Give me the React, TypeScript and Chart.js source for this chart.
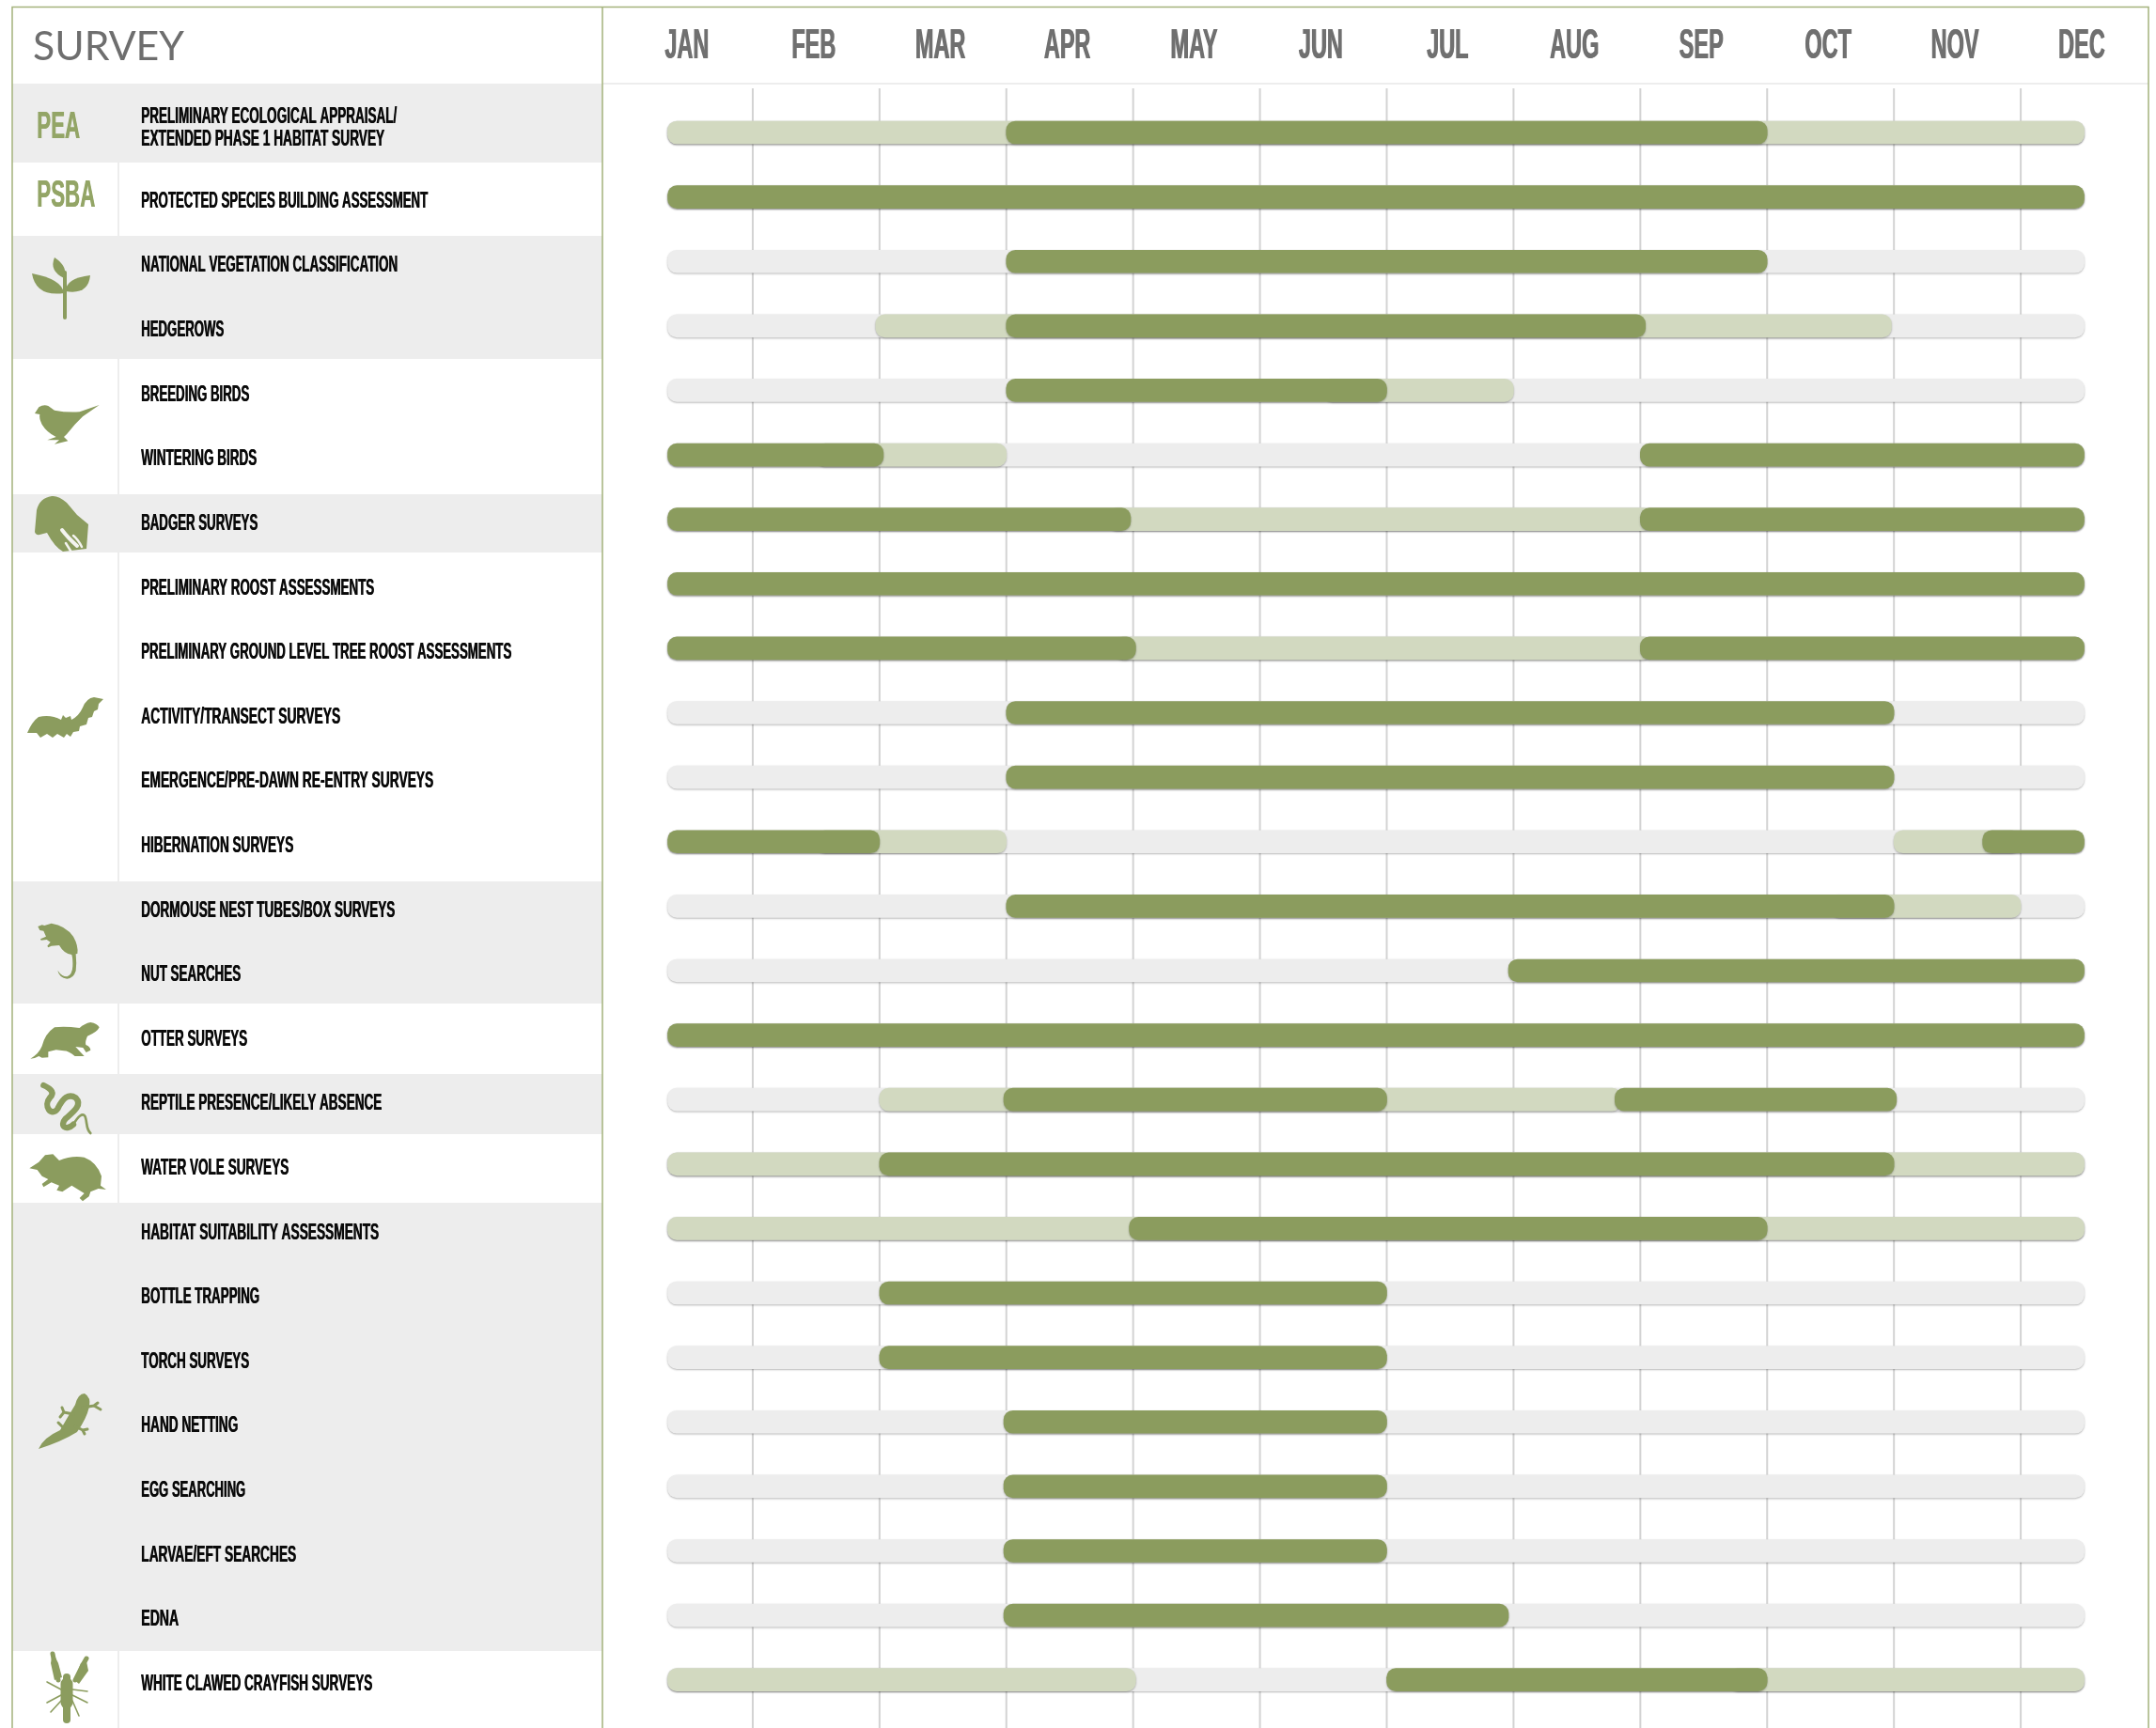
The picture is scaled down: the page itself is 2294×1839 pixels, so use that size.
import React, { useEffect, useRef } from "react";
import { Chart, registerables } from "chart.js";

Chart.register(...registerables);

const months = ["JAN","FEB","MAR","APR","MAY","JUN","JUL","AUG","SEP","OCT","NOV","DEC"];
const surveys: (string | string[])[] = [
  ["PRELIMINARY ECOLOGICAL APPRAISAL/","EXTENDED PHASE 1 HABITAT SURVEY"],
  "PROTECTED SPECIES BUILDING ASSESSMENT",
  "NATIONAL VEGETATION CLASSIFICATION",
  "HEDGEROWS",
  "BREEDING BIRDS",
  "WINTERING BIRDS",
  "BADGER SURVEYS",
  "PRELIMINARY ROOST ASSESSMENTS",
  "PRELIMINARY GROUND LEVEL TREE ROOST ASSESSMENTS",
  "ACTIVITY/TRANSECT SURVEYS",
  "EMERGENCE/PRE-DAWN RE-ENTRY SURVEYS",
  "HIBERNATION SURVEYS",
  "DORMOUSE NEST TUBES/BOX SURVEYS",
  "NUT SEARCHES",
  "OTTER SURVEYS",
  "REPTILE PRESENCE/LIKELY ABSENCE",
  "WATER VOLE SURVEYS",
  "HABITAT SUITABILITY ASSESSMENTS",
  "BOTTLE TRAPPING",
  "TORCH SURVEYS",
  "HAND NETTING",
  "EGG SEARCHING",
  "LARVAE/EFT SEARCHES",
  "EDNA",
  "WHITE CLAWED CRAYFISH SURVEYS",
];

type R = [number, number] | null;
const S = 0.33, E = 11.5;
const fullYear: R[] = surveys.map(() => [S, E]);
const suboptimalA: R[] = [
  [S,E],null,null,[1.97,9.98],[5.5,7],[1.5,3],[3.8,8.1],null,[3.85,8.1],null,null,[1.5,3],
  [9.5,11],null,null,[2,7.85],[S,E],[S,E],null,null,null,null,null,null,[S,4.02],
];
const suboptimalB: R[] = [
  null,null,null,null,null,null,null,null,null,null,null,[10,11],
  null,null,null,null,null,null,null,null,null,null,null,null,[8.7,E],
];
const optimalA: R[] = [
  [3,9],[S,E],[3,9],[3,8.04],[3,6],[S,2.03],[S,3.98],[S,E],[S,4.02],[3,10],[3,10],[S,2],
  [3,10],[6.96,E],[S,E],[2.98,6],[2,10],[3.97,9],[2,6],[2,6],[2.98,6],[2.98,6],[2.98,6],[2.98,6.96],[6,9],
];
const optimalB: R[] = [
  null,null,null,null,null,[8,E],[8,E],null,[8,E],null,null,[10.7,E],
  null,null,null,[7.8,10.02],null,null,null,null,null,null,null,null,null,
];

const DARK = "#8b9c5e";
const LIGHT = "#d2d9c0";
const TRACK = "#ededed";
const GREY_TEXT = "#707070";

const greyBands = [[89,173],[251,382],[526,588],[938,1068],[1143,1207],[1280,1757]];
const whiteBands = [[173,251],[382,526],[588,938],[1068,1143],[1207,1280],[1757,1839]];
// pixel widths of each label line
const labelWidths = [272,259,305,273,88,115,123,124,248,394,212,311,162,270,106,113,256,157,253,126,115,103,111,165,40,246];

const FONT_BOLD = '"Liberation Sans", Arial, sans-serif';

function condensed(ctx: any, text: string, x: number, y: number, font: string, sx: number, color: string, heavy = 0) {
  ctx.save();
  ctx.font = font;
  ctx.fillStyle = color;
  ctx.textAlign = "left";
  ctx.textBaseline = "middle";
  if (heavy) {
    ctx.shadowColor = color;
    ctx.shadowBlur = 0;
    ctx.shadowOffsetX = heavy;
  }
  ctx.translate(x, y);
  ctx.scale(sx, 1);
  ctx.fillText(text, 0, 0);
  ctx.restore();
}

function fit(ctx: any, font: string, ref: string, width: number) {
  ctx.save();
  ctx.font = font;
  const w = ctx.measureText(ref).width;
  ctx.restore();
  return width / w;
}

function shape(ctx: any, d: string, ox = 0, oy = 0, k = 1, color = DARK) {
  ctx.save();
  ctx.translate(ox, oy);
  ctx.scale(k, k);
  ctx.fillStyle = color;
  ctx.fill(new Path2D(d));
  ctx.restore();
}

function line(ctx: any, d: string, w: number, ox = 0, oy = 0, k = 1, color = DARK) {
  ctx.save();
  ctx.translate(ox, oy);
  ctx.scale(k, k);
  ctx.strokeStyle = color;
  ctx.lineWidth = w;
  ctx.lineCap = "round";
  ctx.lineJoin = "round";
  ctx.stroke(new Path2D(d));
  ctx.restore();
}

function drawIcons(ctx: any) {
  // plant
  line(ctx, "M69 290 L69 338", 4);
  shape(ctx, "M58 274 Q52 288 68 296 Q73 284 58 274 Z");
  shape(ctx, "M34 291 Q38 316 68 312 Q66 297 34 291 Z");
  shape(ctx, "M96 293 Q70 296 70 310 Q94 314 96 293 Z");
  // bird
  shape(ctx, "M72 180 L85 160 Q100 150 115 156 L135 170 Q175 178 215 175 L278 153 L225 190 L200 215 L175 245 L165 255 L178 268 L135 278 L150 265 L112 265 L140 255 Q110 240 95 215 Q85 195 88 183 Z", 13, 380, 1 / 3);
  // badger
  shape(ctx, "M55 528 Q42 530 39 543 L37 566 Q38 571 46 568 L50 567 Q58 582 67 587 L92 584 L94 558 L82 548 L71 535 Q62 527 55 528 Z");
  line(ctx, "M66 564 Q72 572 82 581", 4, 0, 0, 1, "#f4f4f0");
  line(ctx, "M78 570 Q83 574 87 582", 2.5, 0, 0, 1, "#f4f4f0");
  line(ctx, "M70 578 L75 586", 2.5, 0, 0, 1, "#f4f4f0");
  // bat
  shape(ctx, "M29 780 Q34 768 41 763 Q54 760 65 766 L67 761 L70 764 L75 762 L76 766 Q84 762 88 753 Q92 743 100 742 L110 744 L105 749 L104 755 L100 757 L98 763 L94 764 L92 771 L85 773 L84 778 L78 779 L75 784 L71 781 L68 785 L61 781 L56 785 L50 781 L43 785 L39 780 Z");
  // dormouse
  shape(ctx, "M82 108 L95 103 L103 105 L125 98 Q170 105 195 140 Q212 170 208 195 L203 196 Q206 225 203 250 Q195 275 175 275 Q150 272 145 248 Q158 268 175 268 Q192 262 193 235 Q194 212 190 198 Q165 195 150 168 L125 170 L115 175 L112 170 L122 158 L110 150 L92 152 L90 148 L108 140 L100 122 L88 120 Z", 13, 950, 1 / 3);
  // otter
  shape(ctx, "M58 530 Q85 515 95 490 Q105 450 135 430 Q165 425 215 432 Q230 418 250 414 Q272 418 278 430 Q272 445 240 458 Q232 475 235 486 Q250 492 250 503 L236 510 L226 495 L202 492 L230 522 L200 522 Q180 505 165 505 L140 502 L115 508 L115 526 L95 527 L85 522 Q72 530 58 530 Z", 13, 950, 1 / 3);
  // snake
  line(ctx, "M100 615 C128 628 135 640 120 655 C98 680 125 718 145 690 C162 655 180 640 203 655 C225 678 195 700 170 722 C150 745 172 762 195 740", 19, 13, 950, 1 / 3);
  line(ctx, "M195 740 C210 715 225 700 233 715 C240 735 235 755 250 768", 8, 13, 950, 1 / 3);
  // water vole
  shape(ctx, "M55 880 L85 860 L105 838 L130 835 L150 855 Q190 838 230 845 Q270 860 285 905 L282 935 L300 948 L275 945 L250 955 L245 970 L225 985 L215 975 L230 960 L190 935 L160 955 L142 950 L150 935 L125 925 L100 940 L95 930 L115 915 L95 905 L80 885 Z", 13, 950, 1 / 3);
  // newt
  shape(ctx, "M41 1542 Q46 1530 64 1522 Q72 1508 80 1495 Q83 1483 90 1483 Q97 1487 95 1497 Q92 1510 82 1524 Q66 1534 41 1542 Z");
  line(ctx, "M88 1498 L100 1496 L107 1500 M100 1496 L104 1493", 3);
  line(ctx, "M78 1505 L68 1503 L64 1508 M68 1503 L66 1498", 3);
  line(ctx, "M80 1518 L88 1522 L90 1526 M88 1522 L93 1521", 3);
  line(ctx, "M68 1520 L62 1514", 3);
  // crayfish
  line(ctx, "M71 1785 L71 1830", 8);
  line(ctx, "M71 1792 L71 1812", 13);
  line(ctx, "M62 1788 L58 1770 L56 1760", 5);
  line(ctx, "M80 1788 L88 1772 L92 1765", 5);
  shape(ctx, "M56 1758 L62 1770 L66 1785 L58 1788 L54 1770 Z");
  shape(ctx, "M86 1770 L92 1768 L94 1778 L84 1792 L79 1788 Z");
  line(ctx, "M65 1798 L50 1790 M65 1804 L50 1812 M65 1810 L54 1822 M77 1798 L93 1800 M77 1804 L93 1812 M77 1810 L84 1826", 1.6);
}

const shadowPlugin = {
  id: "barShadow",
  beforeDatasetsDraw(chart: any) {
    const ctx = chart.ctx;
    ctx.save();
    ctx.shadowColor = "rgba(0,0,0,0.28)";
    ctx.shadowBlur = 2;
    ctx.shadowOffsetY = 1;
  },
  afterDatasetsDraw(chart: any) {
    chart.ctx.restore();
  },
};

const framePlugin = {
  id: "frame",
  beforeDraw(chart: any) {
    const ctx = chart.ctx;
    const x = chart.scales.x;
    ctx.save();
    ctx.fillStyle = "#ffffff";
    ctx.fillRect(0, 0, chart.width, chart.height);
    ctx.fillStyle = TRACK;
    greyBands.forEach(([a, b]) => ctx.fillRect(13, a, 628, b - a));
    whiteBands.forEach(([a, b]) => ctx.fillRect(125, a, 2, b - a));
    ctx.fillRect(641, 88, 1645, 2);
    ctx.fillStyle = "#d3d3d3";
    x.ticks.forEach((t: any) => {
      if (t.value > 0 && t.value < 12) ctx.fillRect(x.getPixelForValue(t.value) - 1, 94, 2, 1745);
    });
    ctx.strokeStyle = "#a4b27c";
    ctx.lineWidth = 1.5;
    ctx.beginPath();
    ctx.moveTo(13, 1839);
    ctx.lineTo(13, 7.5);
    ctx.lineTo(2286, 7.5);
    ctx.lineTo(2286, 1839);
    ctx.moveTo(641, 7.5);
    ctx.lineTo(641, 1839);
    ctx.stroke();
    ctx.restore();
  },
  afterDraw(chart: any) {
    const ctx = chart.ctx;
    const { x, y } = chart.scales;
    const tFont = "400 42px Lato, sans-serif";
    condensed(ctx, "SURVEY", 35, 50, tFont, fit(ctx, tFont, "SURVEY", 161), "#6e6e6e");

    const mFont = `bold 44px ${FONT_BOLD}`;
    const mScale = fit(ctx, mFont, "SEP", 47);
    months.forEach((m, i) => {
      ctx.save();
      ctx.font = mFont;
      const w = ctx.measureText(m).width * mScale;
      ctx.restore();
      condensed(ctx, m, x.getPixelForValue(i + 0.5) - 3 - w / 2, 50, mFont, mScale, GREY_TEXT, 0.8);
    });

    const lFont = `bold 24.5px ${FONT_BOLD}`;
    let n = 0;
    const put = (text: string, py: number) => {
      condensed(ctx, text, 150, py, lFont, fit(ctx, lFont, text, labelWidths[n++]), "#0a0a0a", 0.5);
    };
    y.ticks.forEach((t: any, i: number) => {
      const py = y.getPixelForTick(i);
      const lab = surveys[i];
      if (Array.isArray(lab)) {
        put(lab[0], py - 17);
        put(lab[1], py + 7);
      } else {
        put(lab, py + 4.5);
      }
    });

    const aFont = `bold 41px ${FONT_BOLD}`;
    const aScale = fit(ctx, aFont, "PSBA", 62);
    condensed(ctx, "PEA", 39, 136, aFont, aScale, "#93a566", 0.6);
    condensed(ctx, "PSBA", 39, 209, aFont, aScale, "#93a566", 0.6);
    drawIcons(ctx);
  },
};

export default function App() {
  const ref = useRef<HTMLCanvasElement>(null);
  useEffect(() => {
    const ds = (label: string, data: R[], color: string, order: number) => ({
      label,
      data,
      order,
      grouped: false,
      backgroundColor: color,
      borderRadius: 10,
      borderSkipped: false,
      barThickness: 24,
    });
    const chart = new Chart(ref.current as HTMLCanvasElement, {
      type: "bar",
      data: {
        labels: surveys as any,
        datasets: [
          ds("Optimal", optimalA, DARK, 1),
          ds("Optimal (2)", optimalB, DARK, 1),
          ds("Sub-optimal", suboptimalA, LIGHT, 2),
          ds("Sub-optimal (2)", suboptimalB, LIGHT, 2),
          ds("Year", fullYear, TRACK, 3),
        ] as any,
      },
      options: {
        indexAxis: "y",
        responsive: false,
        animation: false,
        devicePixelRatio: 1,
        events: [],
        layout: { padding: { left: 666, right: 9, top: 106.7, bottom: 17 } },
        plugins: { legend: { display: false }, tooltip: { enabled: false } },
        scales: {
          x: {
            type: "linear",
            min: 0,
            max: 12,
            position: "top",
            ticks: { stepSize: 1, display: false },
            grid: { display: false, drawTicks: false },
            border: { display: false },
          },
          y: {
            type: "category",
            offset: true,
            ticks: { display: false },
            grid: { display: false, drawTicks: false },
            border: { display: false },
          },
        },
      } as any,
      plugins: [framePlugin, shadowPlugin],
    });
    return () => chart.destroy();
  }, []);
  return (
    <div style={{ position: "absolute", left: 0, top: 0, width: 2294, height: 1839 }}>
      <canvas ref={ref} width={2294} height={1839} />
    </div>
  );
}
